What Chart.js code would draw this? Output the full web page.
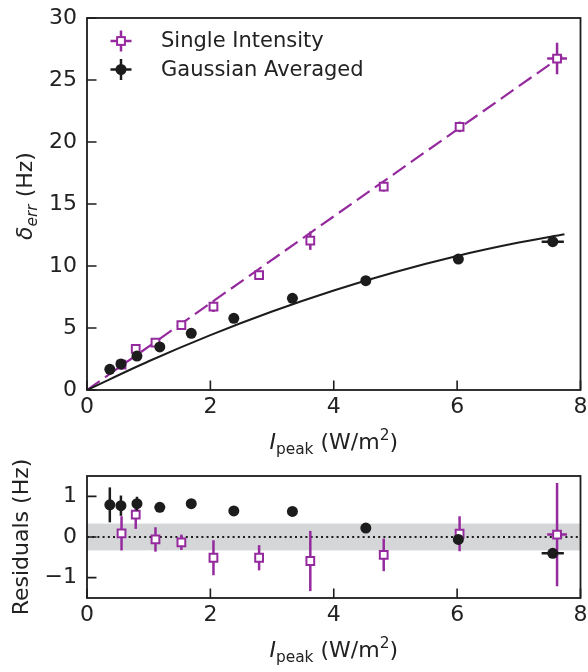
<!DOCTYPE html>
<html><head><meta charset="utf-8">
<script src="https://cdn.jsdelivr.net/npm/chart.js@4.4.1/dist/chart.umd.min.js"></script>
<style>
html,body{margin:0;padding:0;background:#fff;}
#wrap{position:relative;width:588px;height:672px;}
canvas{position:absolute;left:0;top:0;}
</style></head><body>
<div id="wrap"><canvas id="top" width="588" height="672"></canvas><canvas id="res" width="588" height="672"></canvas></div>
<script>
// ---------- data ----------
const xTicks = [0, 2, 4, 6, 8];
const yTicksTop = [0, 5, 10, 15, 20, 25, 30];
const yTicksRes = [-1, 0, 1];

const singleLabel = 'Single Intensity';
const singleX    = [0.56, 0.79, 1.11, 1.53, 2.05, 2.79, 3.62, 4.81, 6.04, 7.62];
const singleY    = [2.05, 3.31, 3.82, 5.24, 6.72, 9.27, 12.04, 16.40, 21.22, 26.73];
const singleYErr = [0.42, 0.35, 0.30, 0.19, 0.43, 0.31, 0.74, 0.40, 0.43, 1.27];
const singleXErr = [0, 0, 0, 0, 0, 0, 0, 0, 0, 0.16];
const singleRes  = [0.09, 0.55, -0.06, -0.13, -0.51, -0.51, -0.59, -0.44, 0.08, 0.06];

const gaussLabel = 'Gaussian Averaged';
const gaussX    = [0.37, 0.55, 0.81, 1.18, 1.69, 2.38, 3.33, 4.52, 6.02, 7.55];
const gaussY    = [1.67, 2.10, 2.74, 3.47, 4.57, 5.78, 7.39, 8.82, 10.56, 11.96];
const gaussYErr = [0.43, 0.25, 0.17, 0.05, 0.05, 0.05, 0.05, 0.05, 0.05, 0.05];
const gaussXErr = [0, 0, 0, 0, 0, 0, 0, 0, 0, 0.18];
const gaussRes  = [0.79, 0.77, 0.82, 0.73, 0.82, 0.64, 0.63, 0.22, -0.06, -0.40];

const singleFitX = [0, 7.7];
const singleFitY = [0, 26.95];
const gaussFitX = [0, 1, 2, 3, 4, 5, 6, 7, 7.74];
const gaussFitY = [0, 2.32, 4.43, 6.33, 8.03, 9.52, 10.81, 11.89, 12.56];

const residualBand = 0.33;
const zeroLineX = [0, 8];

// ---------- style ----------
const PURPLE = '#952a9e';
const BLACK = '#1c1c1c';
const TEXT = '#222222';
const FONT = "'DejaVu Sans', sans-serif";
const FS = 22;

const pts = (xs, ys) => xs.map((x, i) => ({x, y: ys[i]}));
const fmt = v => v < 0 ? '\u2212' + Math.abs(v) : String(v);

// ---------- plugins ----------
const errorBars = {
  id: 'errorBars',
  beforeDatasetDraw(chart, args) {
    const ds = chart.data.datasets[args.index];
    if (!ds.yErr) return;
    const xs = chart.scales.x, ys = chart.scales.y, ctx = chart.ctx;
    ctx.save();
    ctx.strokeStyle = ds.borderColor;
    ctx.lineWidth = 2.5;
    ds.data.forEach((p, i) => {
      const px = xs.getPixelForValue(p.x), py = ys.getPixelForValue(p.y);
      const ey = ds.yErr[i], ex = ds.xErr[i];
      ctx.beginPath();
      if (ey) { ctx.moveTo(px, ys.getPixelForValue(p.y - ey)); ctx.lineTo(px, ys.getPixelForValue(p.y + ey)); }
      if (ex) { ctx.moveTo(xs.getPixelForValue(p.x - ex), py); ctx.lineTo(xs.getPixelForValue(p.x + ex), py); }
      ctx.stroke();
    });
    ctx.restore();
  }
};

function makeBand(value) {
  return {
    id: 'band',
    beforeDatasetsDraw(chart) {
      const ca = chart.chartArea, ys = chart.scales.y, ctx = chart.ctx;
      const y1 = ys.getPixelForValue(value), y2 = ys.getPixelForValue(-value);
      ctx.save();
      ctx.fillStyle = '#d5d6d8';
      ctx.fillRect(ca.left, y1, ca.right - ca.left, y2 - y1);
      ctx.restore();
    }
  };
}

const frame = {
  id: 'frame',
  afterDatasetsDraw(chart) {
    const ca = chart.chartArea, ctx = chart.ctx;
    const xs = chart.scales.x, ys = chart.scales.y;
    ctx.save();
    ctx.strokeStyle = BLACK;
    ctx.lineWidth = 1.8;
    ctx.strokeRect(ca.left, ca.top, ca.right - ca.left, ca.bottom - ca.top);
    ctx.lineWidth = 1.6;
    ctx.beginPath();
    xs.ticks.forEach(t => {
      const x = xs.getPixelForValue(t.value);
      ctx.moveTo(x, ca.bottom); ctx.lineTo(x, ca.bottom - 9.5);
    });
    ys.ticks.forEach(t => {
      const y = ys.getPixelForValue(t.value);
      ctx.moveTo(ca.left, y); ctx.lineTo(ca.left + 9.5, y);
    });
    ctx.stroke();
    ctx.restore();
  }
};

function drawRich(ctx, parts, cx, cy, rot) {
  ctx.save();
  ctx.translate(cx, cy);
  ctx.rotate(rot);
  ctx.fillStyle = TEXT;
  ctx.textBaseline = 'alphabetic';
  ctx.textAlign = 'left';
  const fontOf = p => (p.italic ? 'italic ' : '') + (FS * (p.scale || 1)).toFixed(1) + 'px ' + FONT;
  let total = 0;
  parts.forEach(p => { ctx.font = fontOf(p); total += ctx.measureText(p.t).width; });
  let x = -total / 2;
  const base = FS * 0.36;
  parts.forEach(p => {
    ctx.font = fontOf(p);
    ctx.fillText(p.t, x, base + (p.shift || 0) * FS);
    x += ctx.measureText(p.t).width;
  });
  ctx.restore();
}

function makeTitles(cfg) {
  return {
    id: 'titles',
    afterDraw(chart) {
      const ca = chart.chartArea, ctx = chart.ctx;
      drawRich(ctx, cfg.x, (ca.left + ca.right) / 2, ca.bottom + cfg.xOffset, 0);
      drawRich(ctx, cfg.y, cfg.yX, (ca.top + ca.bottom) / 2 + cfg.yShift, -Math.PI / 2);
      if (!cfg.legend) return;
      chart.data.datasets.filter(d => d.inLegend).forEach((d, i) => {
        const mx = ca.left + 34, my = ca.top + 23 + i * 28.5;
        ctx.save();
        ctx.strokeStyle = d.borderColor;
        ctx.lineWidth = 2.5;
        ctx.beginPath();
        ctx.moveTo(mx - 10.5, my); ctx.lineTo(mx + 10.5, my);
        ctx.moveTo(mx, my - 10.5); ctx.lineTo(mx, my + 10.5);
        ctx.stroke();
        if (d.pointStyle === 'rect') {
          ctx.fillStyle = '#fff'; ctx.lineWidth = 2;
          ctx.fillRect(mx - 3.9, my - 3.9, 7.8, 7.8);
          ctx.strokeRect(mx - 3.9, my - 3.9, 7.8, 7.8);
        } else {
          ctx.fillStyle = d.backgroundColor;
          ctx.beginPath(); ctx.arc(mx, my, 5.5, 0, Math.PI * 2); ctx.fill();
        }
        ctx.fillStyle = TEXT;
        ctx.font = '21px ' + FONT;
        ctx.textBaseline = 'middle';
        ctx.fillText(d.label, mx + 40, my + 1);
        ctx.restore();
      });
    }
  };
}

function makeScales(yMin, yMax, yTicks, xHeight) {
  const tickFont = {family: FONT, size: FS};
  return {
    x: {
      type: 'linear', min: 0, max: 8,
      afterBuildTicks: s => { s.ticks = xTicks.map(v => ({value: v})); },
      afterFit: s => { s.height = xHeight; s.paddingLeft = 0; s.paddingRight = 0; },
      grid: {display: false, drawTicks: false},
      border: {display: false},
      ticks: {padding: 4, font: tickFont, color: TEXT, maxRotation: 0, autoSkip: false, callback: v => fmt(v)}
    },
    y: {
      type: 'linear', min: yMin, max: yMax,
      afterBuildTicks: s => { s.ticks = yTicks.map(v => ({value: v})); },
      afterFit: s => { s.width = 87; s.paddingTop = 0; s.paddingBottom = 0; },
      grid: {display: false, drawTicks: false},
      border: {display: false},
      ticks: {padding: 10, font: tickFont, color: TEXT, autoSkip: false, callback: v => fmt(v)}
    }
  };
}

const xTitle = [
  {t: 'I', italic: true},
  {t: 'peak', scale: 0.7, shift: 0.22},
  {t: ' (W/m'},
  {t: '2', scale: 0.7, shift: -0.42},
  {t: ')'}
];
const yTitleTop = [{t: '\u03b4', italic: true}, {t: 'err', italic: true, scale: 0.7, shift: 0.22}, {t: ' (Hz)'}];
const yTitleRes = [{t: 'Residuals (Hz)'}];

const common = {responsive: false, animation: false, devicePixelRatio: 1, events: []};

// ---------- top chart ----------
new Chart(document.getElementById('top'), {
  type: 'scatter',
  data: {
    datasets: [
      {label: singleLabel, inLegend: true, data: pts(singleX, singleY), yErr: singleYErr, xErr: singleXErr,
       pointStyle: 'rect', pointRadius: 5.5, borderWidth: 2, borderColor: PURPLE, backgroundColor: '#fff', showLine: false, order: 3},
      {label: gaussLabel, inLegend: true, data: pts(gaussX, gaussY), yErr: gaussYErr, xErr: gaussXErr,
       pointStyle: 'circle', pointRadius: 5.5, borderWidth: 0, borderColor: BLACK, backgroundColor: BLACK, showLine: false, order: 1},
      {label: 'single fit', data: pts(singleFitX, singleFitY), showLine: true, pointRadius: 0, borderColor: PURPLE,
       borderWidth: 2.2, borderDash: [15.5, 6.5], order: 4},
      {label: 'gauss fit', data: pts(gaussFitX, gaussFitY), showLine: true, pointRadius: 0, borderColor: BLACK,
       borderWidth: 2, cubicInterpolationMode: 'monotone', order: 2}
    ]
  },
  options: Object.assign({}, common, {
    layout: {padding: {left: 0, top: 18, right: 5, bottom: 672 - 390 - 40}},
    scales: makeScales(0, 30, yTicksTop, 40),
    plugins: {legend: {display: false}, tooltip: {enabled: false}}
  }),
  plugins: [errorBars, frame, makeTitles({x: xTitle, xOffset: 51, y: yTitleTop, yX: 24, yShift: -8, legend: true})]
});

// ---------- residual chart ----------
new Chart(document.getElementById('res'), {
  type: 'scatter',
  data: {
    datasets: [
      {label: singleLabel, data: pts(singleX, singleRes), yErr: singleYErr, xErr: singleXErr,
       pointStyle: 'rect', pointRadius: 5.5, borderWidth: 2, borderColor: PURPLE, backgroundColor: '#fff', showLine: false, order: 2},
      {label: gaussLabel, data: pts(gaussX, gaussRes), yErr: gaussYErr, xErr: gaussXErr,
       pointStyle: 'circle', pointRadius: 5.5, borderWidth: 0, borderColor: BLACK, backgroundColor: BLACK, showLine: false, order: 1},
      {label: 'zero', data: pts(zeroLineX, [0, 0]), showLine: true, pointRadius: 0, borderColor: BLACK,
       borderWidth: 2, borderDash: [2, 3.2], order: 3}
    ]
  },
  options: Object.assign({}, common, {
    layout: {padding: {left: 0, top: 476, right: 6, bottom: 672 - 598 - 40}},
    scales: makeScales(-1.5, 1.5, yTicksRes, 40),
    plugins: {legend: {display: false}, tooltip: {enabled: false}}
  }),
  plugins: [makeBand(residualBand), errorBars, frame, makeTitles({x: xTitle, xOffset: 51, y: yTitleRes, yX: 20, yShift: 0})]
});
</script>
</body></html>
